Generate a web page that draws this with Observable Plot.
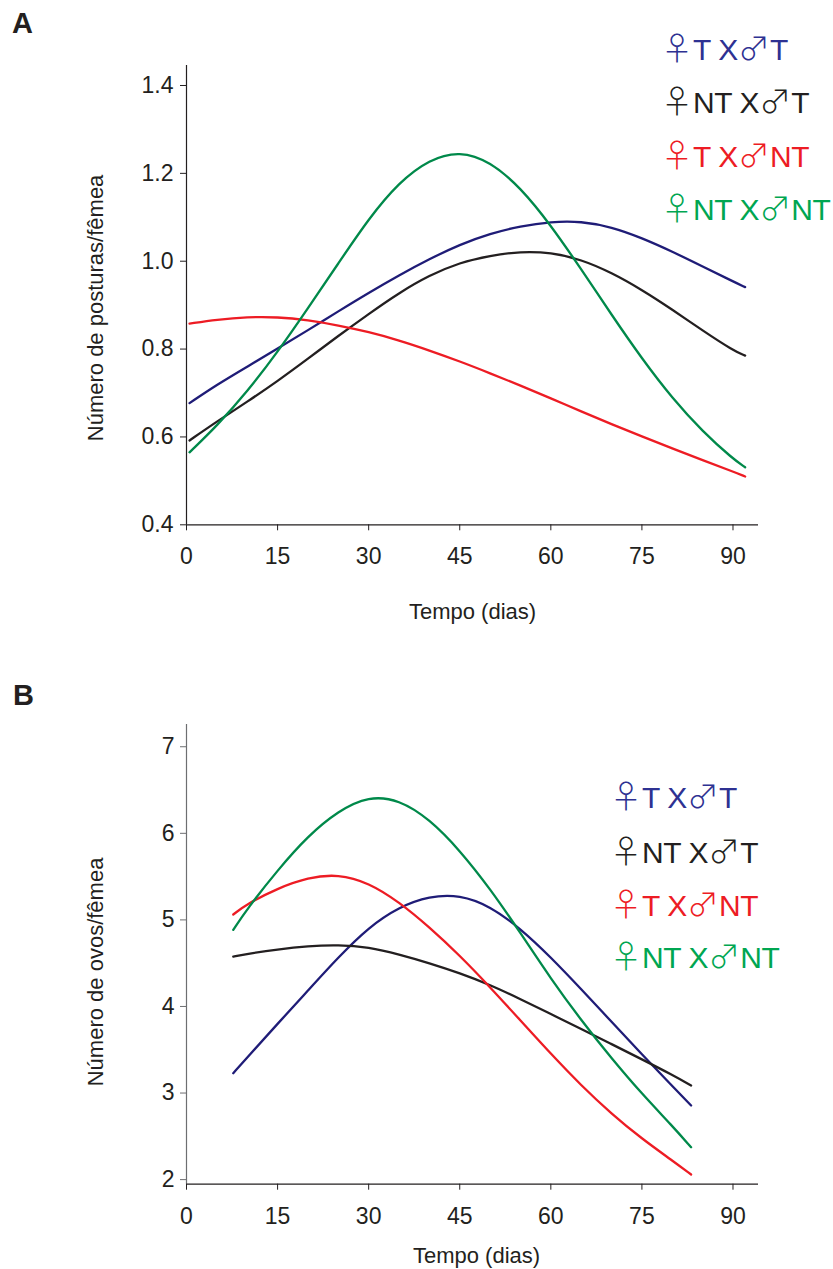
<!DOCTYPE html>
<html><head><meta charset="utf-8">
<script src="https://cdn.jsdelivr.net/npm/d3@7"></script>
<script src="https://cdn.jsdelivr.net/npm/@observablehq/plot@0.6"></script>
<style>
body{margin:0;background:#fff;font-family:"Liberation Sans",Arial,sans-serif;}
#wrap{position:relative;width:833px;height:1269px;overflow:hidden;background:#fff;}
.panel{position:absolute;left:0;}
.letter{position:absolute;font-weight:bold;font-size:29px;line-height:29px;color:#231f20;}
.leg{position:absolute;font-size:30px;line-height:30px;white-space:pre;letter-spacing:-0.4px;}
.sym{font-family:"Noto Sans CJK JP","Noto Sans CJK SC";font-weight:300;font-size:32px;line-height:30px;letter-spacing:0;}
</style></head><body><div id="wrap"></div>
<script>
// ---- data ----
const seriesLabels = ["♀T X♂T", "♀NT X♂T", "♀T X♂NT", "♀NT X♂NT"];
const lineColors = ["#1f1c77", "#231f20", "#ed1c24", "#00894a"];
const legendColors = ["#2e3192", "#231f20", "#ed1c24", "#00a651"];
const panelLetters = ["A", "B"];
const xLabel = "Tempo (dias)";
const yLabelA = "Número de posturas/fêmea";
const yLabelB = "Número de ovos/fêmea";
const xTicks = [0, 15, 30, 45, 60, 75, 90];
const yTicksA = [0.4, 0.6, 0.8, 1.0, 1.2, 1.4];
const yTicksB = [2, 3, 4, 5, 6, 7];

// Panel A: posturas/fêmea
const daysA = [0.5, 5, 10, 15, 20, 25, 30, 35, 40, 45, 50, 55, 60, 65, 70, 75, 80, 85, 90, 92];
const posturasTxT   = [0.677,0.719,0.760,0.801,0.843,0.886,0.928,0.968,1.005,1.038,1.063,1.080,1.090,1.091,1.078,1.053,1.022,0.988,0.954,0.941];
const posturasNTxT  = [0.592,0.635,0.680,0.727,0.778,0.830,0.880,0.928,0.968,0.997,1.013,1.022,1.020,1.004,0.974,0.935,0.890,0.842,0.797,0.785];
const posturasTxNT  = [0.858,0.867,0.873,0.873,0.866,0.854,0.839,0.820,0.797,0.772,0.745,0.717,0.688,0.658,0.629,0.601,0.574,0.547,0.521,0.510];
const posturasNTxNT = [0.565,0.625,0.703,0.793,0.893,0.995,1.097,1.180,1.232,1.251,1.227,1.168,1.082,0.982,0.878,0.778,0.688,0.612,0.550,0.531];

// Panel B: ovos/fêmea
const daysB = [7.7, 10, 15, 20, 25, 30, 35, 40, 45, 50, 55, 60, 65, 70, 75, 80, 83.1];
const ovosTxT   = [3.229,3.410,3.800,4.184,4.569,4.916,5.150,5.275,5.290,5.160,4.900,4.569,4.200,3.822,3.448,3.080,2.856];
const ovosNTxT  = [4.577,4.607,4.660,4.698,4.712,4.685,4.602,4.500,4.385,4.250,4.085,3.912,3.740,3.565,3.390,3.210,3.087];
const ovosTxNT  = [5.062,5.185,5.365,5.490,5.530,5.430,5.208,4.916,4.589,4.223,3.838,3.453,3.087,2.760,2.471,2.221,2.059];
const ovosNTxNT = [4.885,5.128,5.575,5.970,6.260,6.430,6.390,6.165,5.805,5.360,4.850,4.320,3.840,3.400,2.990,2.620,2.374];

// ---- build tables ----
function table(days, seriesArrays) {
  const rows = [];
  seriesArrays.forEach((vals, k) => vals.forEach((v, i) => rows.push({t: days[i], v, s: seriesLabels[k]})));
  return rows;
}
const dataA = table(daysA, [posturasTxT, posturasNTxT, posturasTxNT, posturasNTxNT]);
const dataB = table(daysB, [ovosTxT, ovosNTxT, ovosTxNT, ovosNTxNT]);

const font = '"Liberation Sans", Arial, sans-serif';
const ink = "#231f20";

function panel({data, height, marginTop, marginBottom, yDomain, yTicks, yFmt, yLabel, yTickPad, xLabelDy, xLabelDx, yLabelDy, yAxisColor}) {
  return Plot.plot({
    width: 833, height,
    marginLeft: 186, marginRight: 75, marginTop, marginBottom,
    style: {fontFamily: font, fontSize: "23px", color: ink, background: "white", overflow: "visible"},
    x: {domain: [0, 94.2]},
    y: {domain: yDomain},
    color: {domain: seriesLabels, range: lineColors},
    marks: [
      Plot.axisX({ticks: xTicks, tickSize: 6, tickPadding: 17, tickFormat: d => String(d), label: null, fontSize: 23, stroke: ink}),
      Plot.axisY({ticks: yTicks, tickSize: 6, tickPadding: yTickPad, tickFormat: yFmt, label: null, fontSize: 23, stroke: yAxisColor}),
      Plot.ruleX([0], {stroke: yAxisColor, strokeWidth: 1.2}),
      Plot.ruleY([yDomain[0]], {stroke: ink, strokeWidth: 1.2}),
      Plot.line(data, {x: "t", y: "v", z: "s", stroke: "s", curve: "basis", strokeWidth: 2.3}),
      Plot.text([xLabel], {text: d => d, frameAnchor: "bottom", textAnchor: "middle", lineAnchor: "middle", dy: xLabelDy, dx: xLabelDx, fontSize: 22, fill: ink}),
      Plot.text([yLabel], {text: d => d, frameAnchor: "left", textAnchor: "middle", lineAnchor: "middle", rotate: -90, dx: -91, dy: yLabelDy, fontSize: 22, fill: ink})
    ]
  });
}

const wrap = document.getElementById("wrap");

const plotA = panel({
  data: dataA, height: 640, marginTop: 65, marginBottom: 115.7,
  yDomain: [0.4, 1.4455], yTicks: yTicksA, yFmt: d => d.toFixed(1), yLabel: yLabelA, yTickPad: 7,
  xLabelDy: 87.4, xLabelDx: 0, yLabelDy: 12.8, yAxisColor: ink
});
plotA.classList.add("panel"); plotA.style.top = "0px";
wrap.appendChild(plotA);

const plotB = panel({
  data: dataB, height: 629, marginTop: 84, marginBottom: 85.3,
  yDomain: [1.947, 7.257], yTicks: yTicksB, yFmt: d => String(d), yLabel: yLabelB, yTickPad: 6,
  xLabelDy: 71.3, xLabelDx: 4, yLabelDy: 17.6, yAxisColor: "#6d6e71"
});
plotB.classList.add("panel"); plotB.style.top = "640px";
wrap.appendChild(plotB);

// panel letters
[[panelLetters[0], 12, 8.5], [panelLetters[1], 13, 680.5]].forEach(([t, x, y]) => {
  const d = document.createElement("div");
  d.className = "letter"; d.textContent = t;
  d.style.left = x + "px"; d.style.top = y + "px";
  wrap.appendChild(d);
});

// legends
function legend(left, baselines) {
  seriesLabels.forEach((lab, i) => {
    const d = document.createElement("div");
    d.className = "leg";
    for (const ch of lab) {
      if (ch === "♀" || ch === "♂") {
        const s = document.createElement("span");
        s.className = "sym"; s.textContent = ch;
        d.appendChild(s);
      } else {
        d.appendChild(document.createTextNode(ch));
      }
    }
    d.style.color = legendColors[i];
    d.style.left = left + "px"; d.style.top = (baselines[i] - 28) + "px";
    wrap.appendChild(d);
  });
}
legend(661, [59, 112, 166, 219]);
legend(610, [806.7, 861.7, 915, 966.7]);
</script></body></html>
